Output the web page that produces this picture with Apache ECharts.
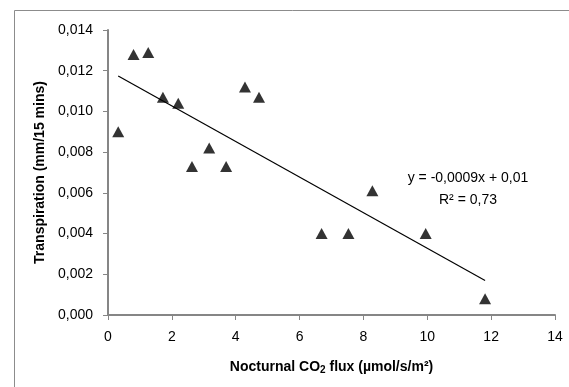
<!DOCTYPE html>
<html><head><meta charset="utf-8">
<script src="https://cdn.jsdelivr.net/npm/echarts@6/dist/echarts.min.js"></script>
<style>html,body{margin:0;padding:0;background:#fff}#c{width:569px;height:387px}</style>
</head><body><div id="c"></div>
<script>
const co2Flux = [0.32, 0.80, 1.26, 1.72, 2.20, 2.63, 3.17, 3.70, 4.29, 4.73, 6.69, 7.53, 8.28, 9.95, 11.81];
const transpiration = [0.0090, 0.0128, 0.0129, 0.0107, 0.0104, 0.0073, 0.0082, 0.0073, 0.0112, 0.0107, 0.0040, 0.0040, 0.0061, 0.0040, 0.0008];
const trendX = [0.32, 11.81];
const trendY = [0.01174, 0.00169];
const equationText = 'y = -0,0009x + 0,01';
const r2Text = 'R² = 0,73';
const xTicks = [0, 2, 4, 6, 8, 10, 12, 14];
const yTicks = ['0,000','0,002','0,004','0,006','0,008','0,010','0,012','0,014'];

const font = 'Liberation Sans';
const axisColor = '#868686';
const chart = echarts.init(document.getElementById('c'), null, {renderer: 'canvas'});
chart.setOption({
  animation: false,
  backgroundColor: '#fff',
  grid: {left: 108, right: 14, top: 30, bottom: 72},
  xAxis: {
    type: 'value', min: 0, max: 14, interval: 2,
    axisLine: {show: true, lineStyle: {color: axisColor, width: 2}},
    axisTick: {show: true, length: 5, lineStyle: {color: axisColor}},
    splitLine: {show: false},
    axisLabel: {color: '#000', fontFamily: font, fontSize: 14, margin: 15,
      formatter: v => String(v)},
    name: '{b|Nocturnal CO}{s|2}{b| flux (µmol/s/m²)}',
    nameLocation: 'middle', nameGap: 44,
    nameTextStyle: {rich: {
      b: {fontFamily: font, fontWeight: 'bold', fontSize: 14, color: '#000'},
      s: {fontFamily: font, fontWeight: 'bold', fontSize: 10, color: '#000', verticalAlign: 'bottom', padding: [6,0,0,0]}
    }}
  },
  yAxis: {
    type: 'value', min: 0, max: 0.014, interval: 0.002,
    axisLine: {show: true, lineStyle: {color: axisColor, width: 2}},
    axisTick: {show: true, length: 5, lineStyle: {color: axisColor}},
    splitLine: {show: false},
    axisLabel: {color: '#000', fontFamily: font, fontSize: 14, margin: 15,
      formatter: (v, i) => yTicks[Math.round(v / 0.002)]},
    name: 'Transpiration (mm/15 mins)',
    nameLocation: 'middle', nameGap: 57, nameRotate: 90,
    nameTextStyle: {fontFamily: font, fontWeight: 'bold', fontSize: 14, color: '#000'}
  },
  graphic: [
    {type: 'rect', shape: {x: 14.5, y: 10.5, width: 700, height: 500}, style: {fill: 'none', stroke: '#8c8c8c', lineWidth: 1}, z: -1},
    {type: 'text', x: 468, y: 178, style: {text: equationText, font: '14px "Liberation Sans"', fill: '#000', align: 'center', verticalAlign: 'middle'}},
    {type: 'text', x: 468, y: 200, style: {text: r2Text, font: '14px "Liberation Sans"', fill: '#000', align: 'center', verticalAlign: 'middle'}}
  ],
  series: [
    {type: 'line', data: trendX.map((x, i) => [x, trendY[i]]), showSymbol: false, symbol: 'none',
      lineStyle: {color: '#000', width: 1.2}, silent: true, z: 2},
    {type: 'scatter', data: co2Flux.map((x, i) => [x, transpiration[i]]), symbol: 'triangle',
      symbolSize: [12, 11], itemStyle: {color: '#000'}, z: 3}
  ]
});
</script></body></html>
